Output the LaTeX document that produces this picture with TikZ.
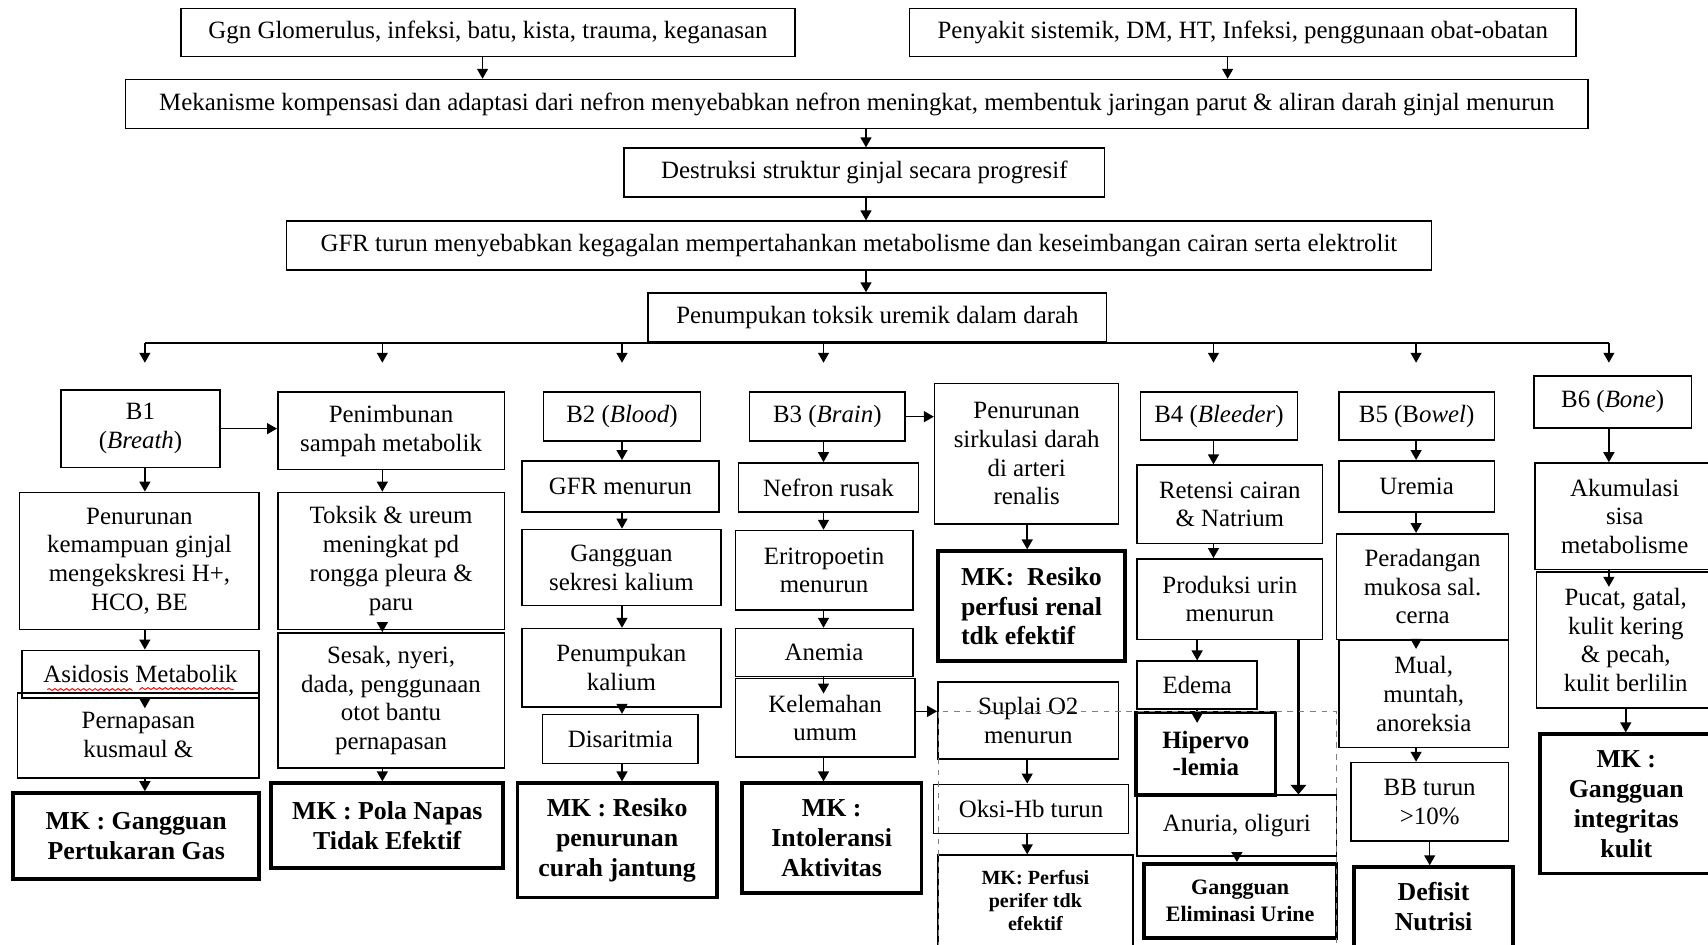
\documentclass[tikz,border=0pt]{standalone}
\usepackage{fontspec}
\setmainfont{Liberation Serif}
\usepackage{tikz}
\usetikzlibrary{arrows.meta, positioning, calc, decorations.pathmorphing}

\begin{document}
\begin{tikzpicture}[
    box/.style={rectangle, draw, line width=0.8pt, align=center, inner sep=2pt, font=\fontsize{13}{15}\selectfont},
    mk/.style={box, line width=1.9pt, font=\bfseries\fontsize{13.5}{15.6}\selectfont},
    arrow/.style={-{Triangle[length=5.2pt, width=5.7pt]}, line width=0.8pt},
    thickarrow/.style={-{Triangle[length=5pt, width=8pt]}, line width=1.9pt}
]
\useasboundingbox (0,0) rectangle (31.36,-17.34);

% Arrow columns
\coordinate (tA) at (8.86,0);
\coordinate (tB) at (22.54,0);
\coordinate (tC) at (15.90,0);
\coordinate (cA) at (2.66,0);
\coordinate (cB) at (7.02,0);
\coordinate (cC) at (11.42,0);
\coordinate (cD) at (15.12,0);
\coordinate (cE) at (18.86,0);
\coordinate (cF) at (22.28,0);
\coordinate (cF2) at (21.98,0);
\coordinate (cF3) at (23.84,0);
\coordinate (cG) at (26.00,0);
\coordinate (cH) at (29.54,0);
\coordinate (tips) at (0,-6.66);
\coordinate (rowK) at (0,-13.06);

% Etiology
\node[box, minimum width=11.28cm, minimum height=0.88cm] (etiologi1) at (8.96,-0.60) {Ggn Glomerulus, infeksi, batu, kista, trauma, keganasan};
\node[box, minimum width=12.24cm, minimum height=0.88cm] (etiologi2) at (22.82,-0.60) {Penyakit sistemik, DM, HT, Infeksi, penggunaan obat-obatan};
\node[box, minimum width=26.86cm, minimum height=0.90cm] (kompensasi) at (15.73,-1.91) {Mekanisme kompensasi dan adaptasi dari nefron menyebabkan nefron meningkat, membentuk jaringan parut \& aliran darah ginjal menurun};
\node[box, minimum width=8.82cm, minimum height=0.90cm] (destruksi) at (15.87,-3.17) {Destruksi struktur ginjal secara progresif};
\node[box, minimum width=21.02cm, minimum height=0.90cm] (gfr) at (15.77,-4.51) {GFR turun menyebabkan kegagalan mempertahankan metabolisme dan keseimbangan cairan serta elektrolit};
\node[box, minimum width=8.42cm, minimum height=0.90cm] (uremik) at (16.11,-5.83) {Penumpukan toksik uremik dalam darah};

\draw[arrow] (tA |- etiologi1.south) -- (tA |- kompensasi.north);
\draw[arrow] (tB |- etiologi2.south) -- (tB |- kompensasi.north);
\draw[arrow] (tC |- kompensasi.south) -- (tC |- destruksi.north);
\draw[arrow] (tC |- destruksi.south) -- (tC |- gfr.north);
\draw[arrow] (tC |- gfr.south) -- (tC |- uremik.north);

% Distribution to B1 - B6
\draw[line width=0.8pt] (cA |- uremik.south) -- (cH |- uremik.south);
\draw[arrow] (cA |- uremik.south) -- (cA |- tips);
\draw[arrow] (cB |- uremik.south) -- (cB |- tips);
\draw[arrow] (cC |- uremik.south) -- (cC |- tips);
\draw[arrow] (cD |- uremik.south) -- (cD |- tips);
\draw[arrow] (cF |- uremik.south) -- (cF |- tips);
\draw[arrow] (cG |- uremik.south) -- (cG |- tips);
\draw[arrow] (cH |- uremik.south) -- (cH |- tips);

% B1 (Breath)
\node[box, minimum width=2.92cm, minimum height=1.42cm] (b1) at (2.58,-7.87) {B1\\(\textit{Breath})};
\node[box, minimum width=4.40cm, minimum height=2.52cm] (ekskresi) at (2.56,-10.30) {Penurunan\\kemampuan ginjal\\mengekskresi H+,\\HCO, BE};
\node[box, minimum width=4.36cm, minimum height=0.88cm] (asidosis) at (2.58,-12.38) {Asidosis Metabolik};
\node[box, minimum width=4.44cm, minimum height=1.56cm] (kusmaul) at (2.54,-13.50) {Pernapasan\\kusmaul \&};
\node[mk, minimum width=4.52cm, minimum height=1.58cm] (mkgas) at (2.50,-15.35) {MK : Gangguan\\Pertukaran Gas};

\draw[arrow] (cA |- b1.south) -- (cA |- ekskresi.north);
\draw[arrow] (cA |- ekskresi.south) -- (cA |- asidosis.north);
\draw[arrow] (cA |- asidosis.south) -- ($(cA |- asidosis.south)+(0,-0.17)$);
\draw[arrow] (cA |- kusmaul.south) -- (cA |- mkgas.north);
\draw[red, line width=0.5pt, decorate, decoration={snake, amplitude=0.5pt, segment length=3pt}] (0.87,-12.66) -- (2.41,-12.66) (2.56,-12.66) -- (4.29,-12.66);

% Penimbunan
\node[box, minimum width=4.16cm, minimum height=1.42cm] (penimbunan) at (7.18,-7.91) {Penimbunan\\sampah metabolik};
\node[box, minimum width=4.16cm, minimum height=2.52cm] (pleura) at (7.18,-10.30) {Toksik \& ureum\\meningkat pd\\rongga pleura \&\\paru};
\node[box, minimum width=4.16cm, minimum height=2.48cm] (sesak) at (7.18,-12.86) {Sesak, nyeri,\\dada, penggunaan\\otot bantu\\pernapasan};
\node[mk, minimum width=4.26cm, minimum height=1.56cm] (mkpola) at (7.11,-15.16) {MK : Pola Napas\\Tidak Efektif};

\draw[arrow] (b1.east) -- (b1.east -| penimbunan.west);
\draw[arrow] (cB |- penimbunan.south) -- (cB |- pleura.north);
\draw[arrow] (cB |- pleura.south) -- (cB |- sesak.north);
\draw[arrow] (cB |- sesak.south) -- (cB |- mkpola.north);

% B2 (Blood)
\node[box, minimum width=2.88cm, minimum height=0.90cm] (b2) at (11.42,-7.65) {B2 (\textit{Blood})};
\node[box, minimum width=3.62cm, minimum height=0.94cm] (gfrturun) at (11.39,-8.93) {GFR menurun};
\node[box, minimum width=3.66cm, minimum height=1.40cm] (sekresi) at (11.41,-10.42) {Gangguan\\sekresi kalium};
\node[box, minimum width=3.66cm, minimum height=1.44cm] (kalium) at (11.41,-12.26) {Penumpukan\\kalium};
\node[box, minimum width=2.86cm, minimum height=0.90cm] (disaritmia) at (11.39,-13.57) {Disaritmia};
\node[mk, minimum width=3.66cm, minimum height=2.10cm] (mkjantung) at (11.33,-15.43) {MK : Resiko\\penurunan\\curah jantung};

\draw[arrow] (cC |- b2.south) -- (cC |- gfrturun.north);
\draw[arrow] (cC |- gfrturun.south) -- (cC |- sekresi.north);
\draw[arrow] (cC |- sekresi.south) -- (cC |- kalium.north);
\draw[arrow] (cC |- kalium.south) -- (cC |- disaritmia.north);
\draw[arrow] (cC |- disaritmia.south) -- (cC |- mkjantung.north);

% B3 (Brain)
\node[box, minimum width=2.86cm, minimum height=0.90cm] (b3) at (15.19,-7.65) {B3 (\textit{Brain})};
\node[box, minimum width=3.30cm, minimum height=0.90cm] (nefron) at (15.21,-8.95) {Nefron rusak};
\node[box, minimum width=3.26cm, minimum height=1.46cm] (eritropoetin) at (15.13,-10.47) {Eritropoetin\\menurun};
\node[box, minimum width=3.26cm, minimum height=0.88cm] (anemia) at (15.13,-11.98) {Anemia};
\node[box, minimum width=3.30cm, minimum height=1.44cm] (kelemahan) at (15.15,-13.18) {Kelemahan\\umum};
\node[mk, minimum width=3.30cm, minimum height=2.02cm] (mkaktivitas) at (15.27,-15.39) {MK :\\Intoleransi\\Aktivitas};

\draw[arrow] (cD |- b3.south) -- (cD |- nefron.north);
\draw[arrow] (cD |- nefron.south) -- (cD |- eritropoetin.north);
\draw[arrow] (cD |- eritropoetin.south) -- (cD |- anemia.north);
\draw[arrow] (cD |- anemia.south) -- ($(cD |- anemia.south)+(0,-0.30)$);
\draw[arrow] (cD |- kelemahan.south) -- (cD |- mkaktivitas.north);

% Renal circulation
\node[box, minimum width=3.38cm, minimum height=2.58cm] (sirkulasi) at (18.85,-8.33) {Penurunan\\sirkulasi darah\\di arteri\\renalis};
\node[mk, minimum width=3.44cm, minimum height=2.02cm, align=left] (mkrenal) at (18.94,-11.13) {MK:~ Resiko\\perfusi renal\\tdk efektif};
\node[box, minimum width=3.32cm, minimum height=1.42cm] (suplai) at (18.88,-13.23) {Suplai O2\\menurun};
\node[box, minimum width=3.58cm, minimum height=0.90cm] (oksihb) at (18.93,-14.85) {Oksi-Hb turun};
\node[box, minimum width=3.58cm, minimum height=1.68cm, font=\bfseries\fontsize{10.5}{12}\selectfont] (mkperifer) at (19.01,-16.54) {MK: Perfusi\\perifer tdk\\efektif};

\draw[arrow] (b3.east) -- (b3.east -| sirkulasi.west);
\draw[arrow] (cE |- sirkulasi.south) -- (cE |- mkrenal.north);
\draw[arrow] (kelemahan.east |- rowK) -- (suplai.west |- rowK);
\draw[arrow] (cE |- suplai.south) -- (cE |- oksihb.north);
\draw[arrow] (cE |- oksihb.south) -- (cE |- mkperifer.north);

% B4 (Bleeder)
\node[box, minimum width=2.88cm, minimum height=0.88cm] (b4) at (22.38,-7.64) {B4 (\textit{Bleeder})};
\node[box, minimum width=3.40cm, minimum height=1.44cm] (retensi) at (22.58,-9.26) {Retensi cairan\\\& Natrium};
\node[box, minimum width=3.40cm, minimum height=1.48cm] (produksi) at (22.58,-11.00) {Produksi urin\\menurun};
\node[box, minimum width=2.20cm, minimum height=0.88cm] (edema) at (21.98,-12.58) {Edema};
\node[mk, minimum width=2.56cm, minimum height=1.52cm, font=\bfseries\fontsize{13}{14}\selectfont] (hipervolemia) at (22.14,-13.84) {Hipervo\\-lemia};
\node[box, minimum width=3.66cm, minimum height=1.12cm] (anuria) at (22.71,-15.16) {Anuria, oliguri};
\node[mk, minimum width=3.54cm, minimum height=1.36cm, font=\bfseries\fontsize{11.5}{14}\selectfont] (eliminasi) at (22.77,-16.54) {Gangguan\\Eliminasi Urine};

\draw[arrow] (cF |- b4.south) -- (cF |- retensi.north);
\draw[arrow] (cF |- retensi.south) -- (cF |- produksi.north);
\draw[arrow] (cF2 |- produksi.south) -- (cF2 |- edema.north);
\draw[arrow] (cF2 |- edema.south) -- ($(cF2 |- edema.south)+(0,-0.24)$);
\draw[thickarrow] (cF3 |- produksi.south) -- (cF3 |- anuria.north);
\draw[arrow] (anuria.south) -- (anuria.south |- eliminasi.north);

% B5 (Bowel)
\node[box, minimum width=2.86cm, minimum height=0.88cm] (b5) at (26.01,-7.64) {B5 (B\textit{owel})};
\node[box, minimum width=2.86cm, minimum height=0.94cm] (uremia) at (26.01,-8.93) {Uremia};
\node[box, minimum width=3.16cm, minimum height=1.94cm] (peradangan) at (26.12,-10.77) {Peradangan\\mukosa sal.\\cerna};
\node[box, minimum width=3.12cm, minimum height=1.96cm] (mual) at (26.14,-12.74) {Mual,\\muntah,\\anoreksia};
\node[box, minimum width=2.90cm, minimum height=1.44cm] (bbturun) at (26.25,-14.72) {BB turun\\>10\%};
\node[mk, minimum width=2.92cm, minimum height=1.46cm] (defisit) at (26.32,-16.65) {Defisit\\Nutrisi};

\draw[arrow] (cG |- b5.south) -- (cG |- uremia.north);
\draw[arrow] (cG |- uremia.south) -- (cG |- peradangan.north);
\draw[arrow] (cG |- peradangan.south) -- ($(cG |- peradangan.south)+(0,-0.16)$);
\draw[arrow] (cG |- mual.south) -- (cG |- bbturun.north);
\draw[arrow] (bbturun.south) -- (bbturun.south |- defisit.north);

% B6 (Bone)
\node[box, minimum width=2.90cm, minimum height=0.96cm] (b6) at (29.61,-7.38) {B6 (\textit{Bone})};
\node[box, minimum width=3.30cm, minimum height=1.96cm] (akumulasi) at (29.83,-9.48) {Akumulasi\\sisa\\metabolisme};
\node[box, minimum width=3.28cm, minimum height=2.50cm] (pucat) at (29.85,-11.75) {Pucat, gatal,\\kulit kering\\\& pecah,\\kulit berlilin};
\node[mk, minimum width=3.16cm, minimum height=2.56cm] (mkkulit) at (29.86,-14.76) {MK :\\Gangguan\\integritas\\kulit};

\draw[arrow] (cH |- b6.south) -- (cH |- akumulasi.north);
\draw[arrow] (cH |- akumulasi.south) -- ($(cH |- akumulasi.south)+(0,-0.30)$);
\draw[arrow] (pucat.south) -- (pucat.south |- mkkulit.north);

% dashed frame
\draw[dashed, gray, line width=0.4pt] (17.22,-17.40) |- (24.54,-13.06) -- (24.54,-17.40);

\end{tikzpicture}
\end{document}
